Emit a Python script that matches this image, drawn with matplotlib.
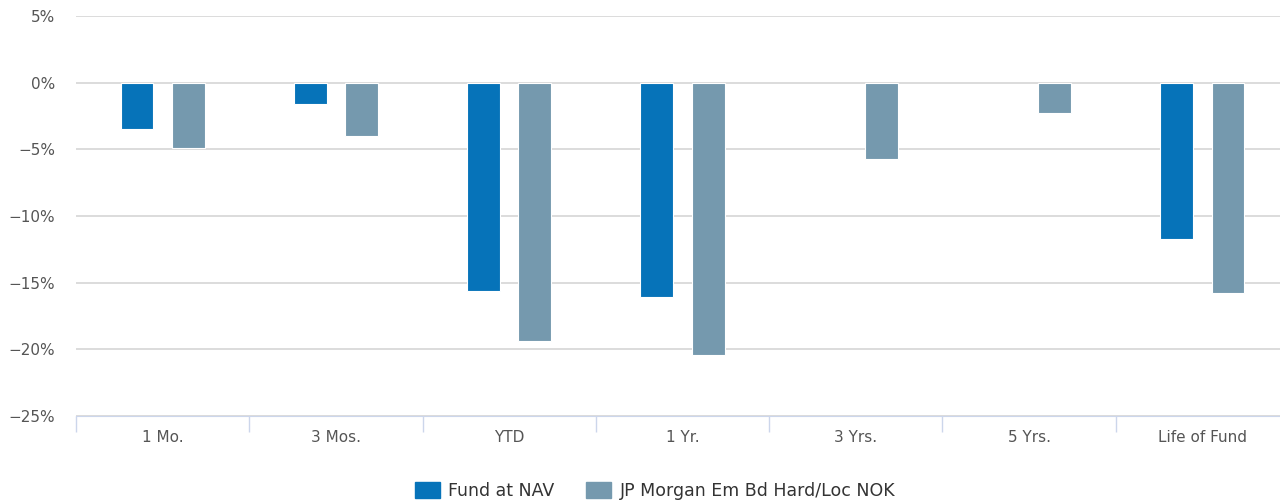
import numpy as np
import matplotlib.pyplot as plt
from matplotlib.patches import Patch

categories = ["1 Mo.", "3 Mos.", "YTD", "1 Yr.", "3 Yrs.", "5 Yrs.", "Life of Fund"]
fund_nav = [-3.5, -1.6, -15.6, -16.1, np.nan, np.nan, -11.7]
benchmark = [-4.9, -4.0, -19.4, -20.4, -5.7, -2.3, -15.8]
yticks = [5, 0, -5, -10, -15, -20, -25]

fund_color = "#0673b9"
bench_color = "#7599ae"

fig = plt.figure(figsize=(12.8, 5.04), dpi=100)
ax = fig.add_axes([76 / 1280, 88 / 504, 1213 / 1280, 400 / 504])

x = np.arange(len(categories))
w = 0.19
off = 0.148
ax.bar(x - off, fund_nav, w, color=fund_color, edgecolor="white", linewidth=0.8, zorder=3)
ax.bar(x + off, benchmark, w, color=bench_color, edgecolor="white", linewidth=0.8, zorder=3)

ax.set_xlim(-0.5, len(categories) - 0.5)
ax.set_ylim(-25, 5)
ax.set_yticks(yticks)
ax.set_yticklabels([f"{v}%".replace("-", "\u2212") for v in yticks])
ax.yaxis.grid(True, color="#d6d6d6", linewidth=1.2)
ax.set_axisbelow(True)
ax.tick_params(axis="y", length=0, labelsize=11, labelcolor="#555555", pad=15)

ax.set_xticks(x)
ax.set_xticklabels(categories)
ax.tick_params(axis="x", length=0, labelsize=11, labelcolor="#555555", pad=10)
ax.set_xticks(np.arange(len(categories) + 1) - 0.5, minor=True)
ax.tick_params(axis="x", which="minor", length=11.5, color="#ccd6eb", width=1)

for s in ["top", "right", "left"]:
    ax.spines[s].set_visible(False)
ax.spines["bottom"].set_color("#ccd6eb")

handles = [Patch(color=fund_color, label="Fund at NAV"),
           Patch(color=bench_color, label="JP Morgan Em Bd Hard/Loc NOK")]
fig.legend(handles=handles, loc="center", bbox_to_anchor=(655 / 1280, 13 / 504), ncol=2,
           frameon=False, fontsize=12.5, handlelength=1.45, handleheight=1.0,
           columnspacing=1.8, handletextpad=0.5, labelcolor="#333333")

fig.savefig("out.png", dpi=100)
